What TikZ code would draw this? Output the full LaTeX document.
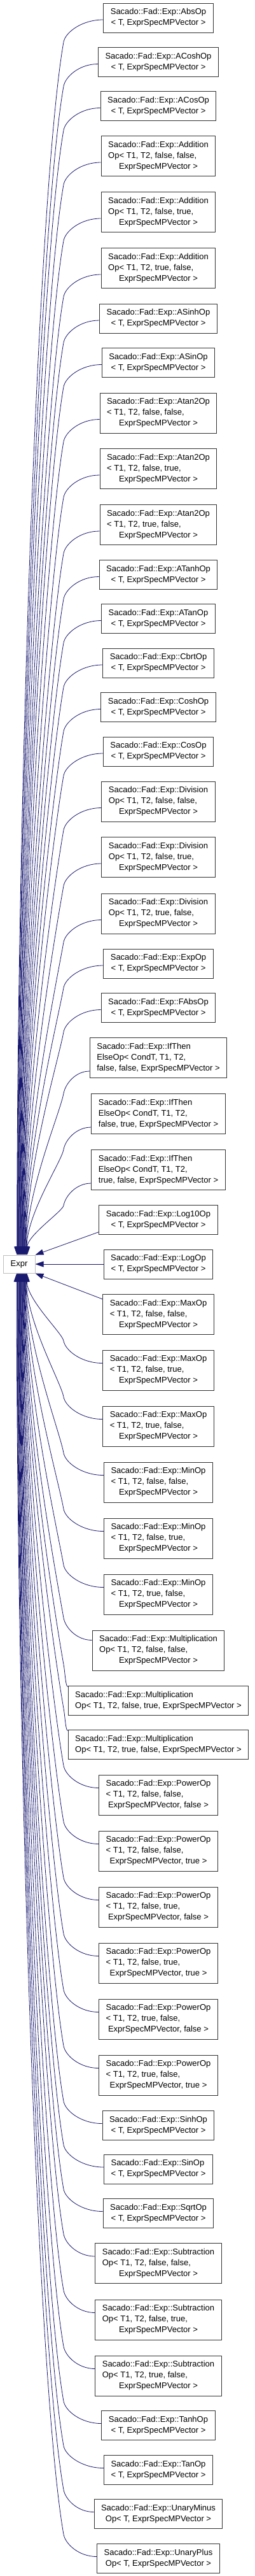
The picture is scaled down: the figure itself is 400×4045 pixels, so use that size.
\documentclass[tikz,border=0pt]{standalone}
\usepackage{fontspec}
\setmainfont{Liberation Sans}
\usepackage{tikz}
\usetikzlibrary{arrows.meta,calc}
\definecolor{edgeBlue}{RGB}{25,25,112}
\definecolor{baseGray}{RGB}{191,191,191}
% class labels: left lines, last line centred
\newcommand{\clsb}[2]{\begin{tabular}{@{}l@{}}#1\\\multicolumn{1}{@{}c@{}}{#2}\end{tabular}}
\newcommand{\clsc}[3]{\begin{tabular}{@{}l@{}}#1\\#2\\\multicolumn{1}{@{}c@{}}{#3}\end{tabular}}

\begin{document}
\begin{tikzpicture}[x=1pt, y=1pt,
  every node/.style={font=\fontsize{13}{17}\selectfont},
  cls/.style={draw=black!80, fill=white, line width=1pt, inner xsep=11pt, inner ysep=6pt},
  base/.style={draw=baseGray, fill=white, line width=1pt, minimum width=50pt, minimum height=28pt, inner sep=0pt},
  inh/.style={draw=edgeBlue, line width=0.8pt, -{Triangle[length=13pt,width=9pt]}}]
  \useasboundingbox (0,0) rectangle (400,-4045);
  \coordinate (kx) at (100,0);
  % Base class
  \node[base] (Expr) at (30,-1985) {Expr};
  % Derived classes
  \node[cls] (abs) at (249,-28) {\clsb{Sacado::Fad::Exp::AbsOp}{< T, ExprSpecMPVector >}};
  \node[cls] (acosh) at (249,-97.5) {\clsb{Sacado::Fad::Exp::ACoshOp}{< T, ExprSpecMPVector >}};
  \node[cls] (acos) at (249,-166.5) {\clsb{Sacado::Fad::Exp::ACosOp}{< T, ExprSpecMPVector >}};
  \node[cls] (addff) at (249,-245) {\clsc{Sacado::Fad::Exp::Addition}{Op< T1, T2, false, false,}{ExprSpecMPVector >}};
  \node[cls] (addft) at (249,-333) {\clsc{Sacado::Fad::Exp::Addition}{Op< T1, T2, false, true,}{ExprSpecMPVector >}};
  \node[cls] (addtf) at (249,-421) {\clsc{Sacado::Fad::Exp::Addition}{Op< T1, T2, true, false,}{ExprSpecMPVector >}};
  \node[cls] (asinh) at (249,-500) {\clsb{Sacado::Fad::Exp::ASinhOp}{< T, ExprSpecMPVector >}};
  \node[cls] (asin) at (249,-569.5) {\clsb{Sacado::Fad::Exp::ASinOp}{< T, ExprSpecMPVector >}};
  \node[cls] (atanff) at (249,-648.5) {\clsc{Sacado::Fad::Exp::Atan2Op}{< T1, T2, false, false,}{ExprSpecMPVector >}};
  \node[cls] (atanft) at (249,-736) {\clsc{Sacado::Fad::Exp::Atan2Op}{< T1, T2, false, true,}{ExprSpecMPVector >}};
  \node[cls] (atantf) at (249,-824) {\clsc{Sacado::Fad::Exp::Atan2Op}{< T1, T2, true, false,}{ExprSpecMPVector >}};
  \node[cls] (atanh) at (249,-902.5) {\clsb{Sacado::Fad::Exp::ATanhOp}{< T, ExprSpecMPVector >}};
  \node[cls] (atan) at (249,-971.5) {\clsb{Sacado::Fad::Exp::ATanOp}{< T, ExprSpecMPVector >}};
  \node[cls] (cbrt) at (249,-1041) {\clsb{Sacado::Fad::Exp::CbrtOp}{< T, ExprSpecMPVector >}};
  \node[cls] (cosh) at (249,-1110.5) {\clsb{Sacado::Fad::Exp::CoshOp}{< T, ExprSpecMPVector >}};
  \node[cls] (cos) at (249,-1180) {\clsb{Sacado::Fad::Exp::CosOp}{< T, ExprSpecMPVector >}};
  \node[cls] (divff) at (249,-1258.5) {\clsc{Sacado::Fad::Exp::Division}{Op< T1, T2, false, false,}{ExprSpecMPVector >}};
  \node[cls] (divft) at (249,-1346) {\clsc{Sacado::Fad::Exp::Division}{Op< T1, T2, false, true,}{ExprSpecMPVector >}};
  \node[cls] (divtf) at (249,-1434.5) {\clsc{Sacado::Fad::Exp::Division}{Op< T1, T2, true, false,}{ExprSpecMPVector >}};
  \node[cls] (exp) at (249,-1513) {\clsb{Sacado::Fad::Exp::ExpOp}{< T, ExprSpecMPVector >}};
  \node[cls] (fabs) at (249,-1582.5) {\clsb{Sacado::Fad::Exp::FAbsOp}{< T, ExprSpecMPVector >}};
  \node[cls] (iteff) at (249,-1661) {\clsc{Sacado::Fad::Exp::IfThen}{ElseOp< CondT, T1, T2,}{false, false, ExprSpecMPVector >}};
  \node[cls] (iteft) at (249,-1749) {\clsc{Sacado::Fad::Exp::IfThen}{ElseOp< CondT, T1, T2,}{false, true, ExprSpecMPVector >}};
  \node[cls] (itetf) at (249,-1837) {\clsc{Sacado::Fad::Exp::IfThen}{ElseOp< CondT, T1, T2,}{true, false, ExprSpecMPVector >}};
  \node[cls] (log10) at (249,-1915.5) {\clsb{Sacado::Fad::Exp::Log10Op}{< T, ExprSpecMPVector >}};
  \node[cls] (log) at (249,-1985) {\clsb{Sacado::Fad::Exp::LogOp}{< T, ExprSpecMPVector >}};
  \node[cls] (maxff) at (249,-2064) {\clsc{Sacado::Fad::Exp::MaxOp}{< T1, T2, false, false,}{ExprSpecMPVector >}};
  \node[cls] (maxft) at (249,-2151.5) {\clsc{Sacado::Fad::Exp::MaxOp}{< T1, T2, false, true,}{ExprSpecMPVector >}};
  \node[cls] (maxtf) at (249,-2239.5) {\clsc{Sacado::Fad::Exp::MaxOp}{< T1, T2, true, false,}{ExprSpecMPVector >}};
  \node[cls] (minff) at (249,-2327.5) {\clsc{Sacado::Fad::Exp::MinOp}{< T1, T2, false, false,}{ExprSpecMPVector >}};
  \node[cls] (minft) at (249,-2415.5) {\clsc{Sacado::Fad::Exp::MinOp}{< T1, T2, false, true,}{ExprSpecMPVector >}};
  \node[cls] (mintf) at (249,-2503.5) {\clsc{Sacado::Fad::Exp::MinOp}{< T1, T2, true, false,}{ExprSpecMPVector >}};
  \node[cls] (mulff) at (249,-2591.5) {\clsc{Sacado::Fad::Exp::Multiplication}{Op< T1, T2, false, false,}{ExprSpecMPVector >}};
  \node[cls] (mulft) at (249,-2670.5) {\clsb{Sacado::Fad::Exp::Multiplication}{Op< T1, T2, false, true, ExprSpecMPVector >}};
  \node[cls] (multf) at (249,-2739.5) {\clsb{Sacado::Fad::Exp::Multiplication}{Op< T1, T2, true, false, ExprSpecMPVector >}};
  \node[cls] (powfff) at (249,-2818.5) {\clsc{Sacado::Fad::Exp::PowerOp}{< T1, T2, false, false,}{ExprSpecMPVector, false >}};
  \node[cls] (powfft) at (249,-2906.5) {\clsc{Sacado::Fad::Exp::PowerOp}{< T1, T2, false, false,}{ExprSpecMPVector, true >}};
  \node[cls] (powftf) at (249,-2994.5) {\clsc{Sacado::Fad::Exp::PowerOp}{< T1, T2, false, true,}{ExprSpecMPVector, false >}};
  \node[cls] (powftt) at (249,-3082.5) {\clsc{Sacado::Fad::Exp::PowerOp}{< T1, T2, false, true,}{ExprSpecMPVector, true >}};
  \node[cls] (powtff) at (249,-3170.5) {\clsc{Sacado::Fad::Exp::PowerOp}{< T1, T2, true, false,}{ExprSpecMPVector, false >}};
  \node[cls] (powtft) at (249,-3258.5) {\clsc{Sacado::Fad::Exp::PowerOp}{< T1, T2, true, false,}{ExprSpecMPVector, true >}};
  \node[cls] (sinh) at (249,-3337.5) {\clsb{Sacado::Fad::Exp::SinhOp}{< T, ExprSpecMPVector >}};
  \node[cls] (sin) at (249,-3406) {\clsb{Sacado::Fad::Exp::SinOp}{< T, ExprSpecMPVector >}};
  \node[cls] (sqrt) at (249,-3475.5) {\clsb{Sacado::Fad::Exp::SqrtOp}{< T, ExprSpecMPVector >}};
  \node[cls] (subff) at (249,-3554) {\clsc{Sacado::Fad::Exp::Subtraction}{Op< T1, T2, false, false,}{ExprSpecMPVector >}};
  \node[cls] (subft) at (249,-3642.5) {\clsc{Sacado::Fad::Exp::Subtraction}{Op< T1, T2, false, true,}{ExprSpecMPVector >}};
  \node[cls] (subtf) at (249,-3730.5) {\clsc{Sacado::Fad::Exp::Subtraction}{Op< T1, T2, true, false,}{ExprSpecMPVector >}};
  \node[cls] (tanh) at (249,-3808.5) {\clsb{Sacado::Fad::Exp::TanhOp}{< T, ExprSpecMPVector >}};
  \node[cls] (tan) at (249,-3878.5) {\clsb{Sacado::Fad::Exp::TanOp}{< T, ExprSpecMPVector >}};
  \node[cls] (umin) at (249,-3947.5) {\clsb{Sacado::Fad::Exp::UnaryMinus}{Op< T, ExprSpecMPVector >}};
  \node[cls] (uplus) at (249,-4017.5) {\clsb{Sacado::Fad::Exp::UnaryPlus}{Op< T, ExprSpecMPVector >}};
  % Inheritance edges, upper half
  \foreach \n/\s [count=\i] in {abs/-3, acosh/-3, acos/-3, addff/-10, addft/-10, addtf/-10, asinh/-3, asin/-3,
      atanff/-10, atanft/-10, atantf/-10, atanh/-3, atan/-3, cbrt/-3, cosh/-3, cos/-3, divff/-10, divft/-10,
      divtf/-10, exp/-3, fabs/-3, iteff/-21, iteft/-21, itetf/-21}{
    \path (\n.west); \pgfgetlastxy{\wx}{\wy}
    \pgfmathsetmacro\lc{0.55*(\wx-100)}
    \pgfmathsetmacro\la{0.117*(\wy+\s+1936)}
    \pgfmathsetmacro\lb{0.39*(\wy+\s+1936)}
    \draw[inh] ($(\n.west)+(0,\s)$) .. controls +(-\lc,0) and +(80:15) .. ($(kx |- \n.west)+(0,\s-35)$)
      .. controls +(-100:\la) and +(0,\lb) .. ($(Expr.north)+(-4+0.7*\i,0)$);
  }
  % next to the base
  \draw[inh] ($(log10.west)+(0,-19)$) -- (Expr.north east);
  \draw[inh] (log.west) -- (Expr.east);
  \draw[inh] ($(maxff.west)+(0,24)$) -- (Expr.south east);
  % Inheritance edges, lower half
  \foreach \n/\s [count=\i] in {maxft/11, maxtf/11, minff/11, minft/11, mintf/11, mulff/16, mulft/22, multf/22,
      powfff/11, powfft/11, powftf/11, powftt/11, powtff/11, powtft/11, sinh/3, sin/3, sqrt/3, subff/11,
      subft/11, subtf/11, tanh/3, tan/3, umin/3, uplus/3}{
    \path (\n.west); \pgfgetlastxy{\wx}{\wy}
    \pgfmathsetmacro\lc{0.55*(\wx-100)}
    \pgfmathsetmacro\la{-0.117*(\wy+\s+2034)}
    \pgfmathsetmacro\lb{-0.39*(\wy+\s+2034)}
    \draw[inh] ($(\n.west)+(0,\s)$) .. controls +(-\lc,0) and +(-80:15) .. ($(kx |- \n.west)+(0,\s+35)$)
      .. controls +(100:\la) and +(0,-\lb) .. ($(Expr.south)+(13-0.7*\i,0)$);
  }
\end{tikzpicture}
\end{document}
